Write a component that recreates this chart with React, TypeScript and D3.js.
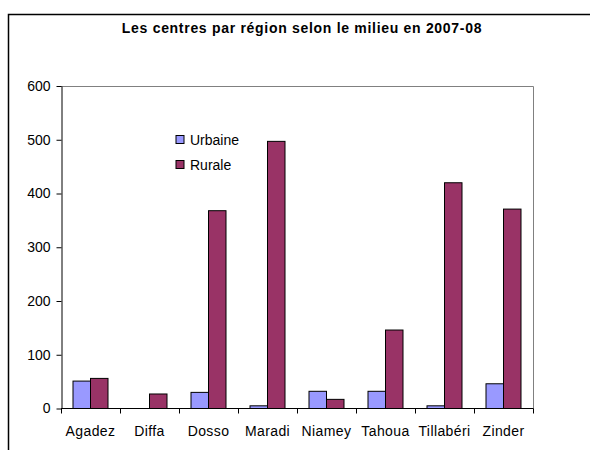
import React, { useEffect, useRef } from 'react';
import * as d3 from 'd3';

const regions = ['Agadez', 'Diffa', 'Dosso', 'Maradi', 'Niamey', 'Tahoua', 'Tillabéri', 'Zinder'];
const urbaine = [51, 0, 30, 5, 32, 32, 5, 46];
const rurale = [56, 27, 368, 497, 17, 146, 420, 371];
const seriesNames = ['Urbaine', 'Rurale'];
const seriesColors = ['#9999FF', '#993366'];
const yTicks = [0, 100, 200, 300, 400, 500, 600];

const App: React.FC = () => {
  const ref = useRef<SVGSVGElement | null>(null);

  useEffect(() => {
    if (!ref.current) return;
    const svg = d3.select(ref.current);
    svg.selectAll('*').remove();

    const plot = { left: 61, right: 533, top: 86, bottom: 408.5 };
    const font = '"Liberation Sans", Arial, sans-serif';

    // outer chart frame (right/bottom edges run off the page)
    svg.append('path')
      .attr('d', 'M8.5,460 L8.5,14.5 L600,14.5')
      .attr('fill', 'none')
      .attr('stroke', '#000')
      .attr('stroke-width', 1.5);

    svg.append('text')
      .attr('x', 302)
      .attr('y', 33)
      .attr('text-anchor', 'middle')
      .style('font-family', font)
      .style('font-size', '14px')
      .style('font-weight', 'bold')
      .style('letter-spacing', '0.7px')
      .text('Les centres par région selon le milieu en 2007-08');

    const x = d3.scaleBand<string>().domain(regions).range([plot.left, plot.right]);
    const inner = d3.scaleBand<number>().domain([0, 1]).range([0, 35]);
    const y = d3.scaleLinear().domain([0, 600]).range([plot.bottom, plot.top]);

    // plot area border (gray)
    svg.append('path')
      .attr('d', `M${plot.left},${plot.top + 0.5} L${plot.right + 0.5},${plot.top + 0.5} L${plot.right + 0.5},${plot.bottom}`)
      .attr('fill', 'none')
      .attr('stroke', '#808080')
      .attr('stroke-width', 1);

    const data = [urbaine, rurale];
    data.forEach((vals, si) => {
      svg.append('g').selectAll('rect')
        .data(vals)
        .enter().append('rect')
        .attr('x', (d, i) => (x(regions[i]) ?? 0) + 12 + (inner(si) ?? 0))
        .attr('y', d => y(d))
        .attr('width', inner.bandwidth())
        .attr('height', d => plot.bottom - y(d))
        .attr('fill', seriesColors[si])
        .attr('stroke', d => (d > 0 ? '#000' : 'none'))
        .attr('stroke-width', 1);
    });

    // y axis
    const yAxis = svg.append('g')
      .attr('transform', `translate(${plot.left + 0.5},0)`)
      .call(d3.axisLeft(y).tickValues(yTicks).tickSize(5).tickSizeOuter(0).tickPadding(6));
    yAxis.selectAll('text').style('font-family', font).style('font-size', '14px').attr('fill', '#000');
    yAxis.selectAll('line, path').attr('stroke', '#000');

    // x axis
    const xAxis = svg.append('g')
      .attr('transform', `translate(0,${plot.bottom})`);
    xAxis.append('line')
      .attr('x1', plot.left).attr('x2', plot.right + 0.5)
      .attr('y1', 0).attr('y2', 0)
      .attr('stroke', '#000');
    const tickPos = regions.map(r => x(r) ?? 0).concat([plot.right]);
    xAxis.selectAll('line.tick')
      .data(tickPos)
      .enter().append('line')
      .attr('class', 'tick')
      .attr('x1', d => d + 0.5).attr('x2', d => d + 0.5)
      .attr('y1', 0).attr('y2', 5)
      .attr('stroke', '#000');
    xAxis.selectAll('text')
      .data(regions)
      .enter().append('text')
      .attr('x', d => (x(d) ?? 0) + x.bandwidth() / 2)
      .attr('y', 27)
      .attr('text-anchor', 'middle')
      .style('font-family', font)
      .style('font-size', '14px')
      .style('letter-spacing', '0.4px')
      .text(d => d);

    // legend
    const legend = svg.append('g');
    seriesNames.forEach((name, i) => {
      legend.append('rect')
        .attr('x', 176).attr('y', 135.5 + i * 25)
        .attr('width', 8).attr('height', 8)
        .attr('fill', seriesColors[i])
        .attr('stroke', '#000');
      legend.append('text')
        .attr('x', 190).attr('y', 144.5 + i * 25)
        .style('font-family', font)
        .style('font-size', '14px')
        .text(name);
    });
  }, []);

  return <svg ref={ref} width={590} height={450} style={{ position: 'absolute', left: 0, top: 0 }} />;
};

export default App;
